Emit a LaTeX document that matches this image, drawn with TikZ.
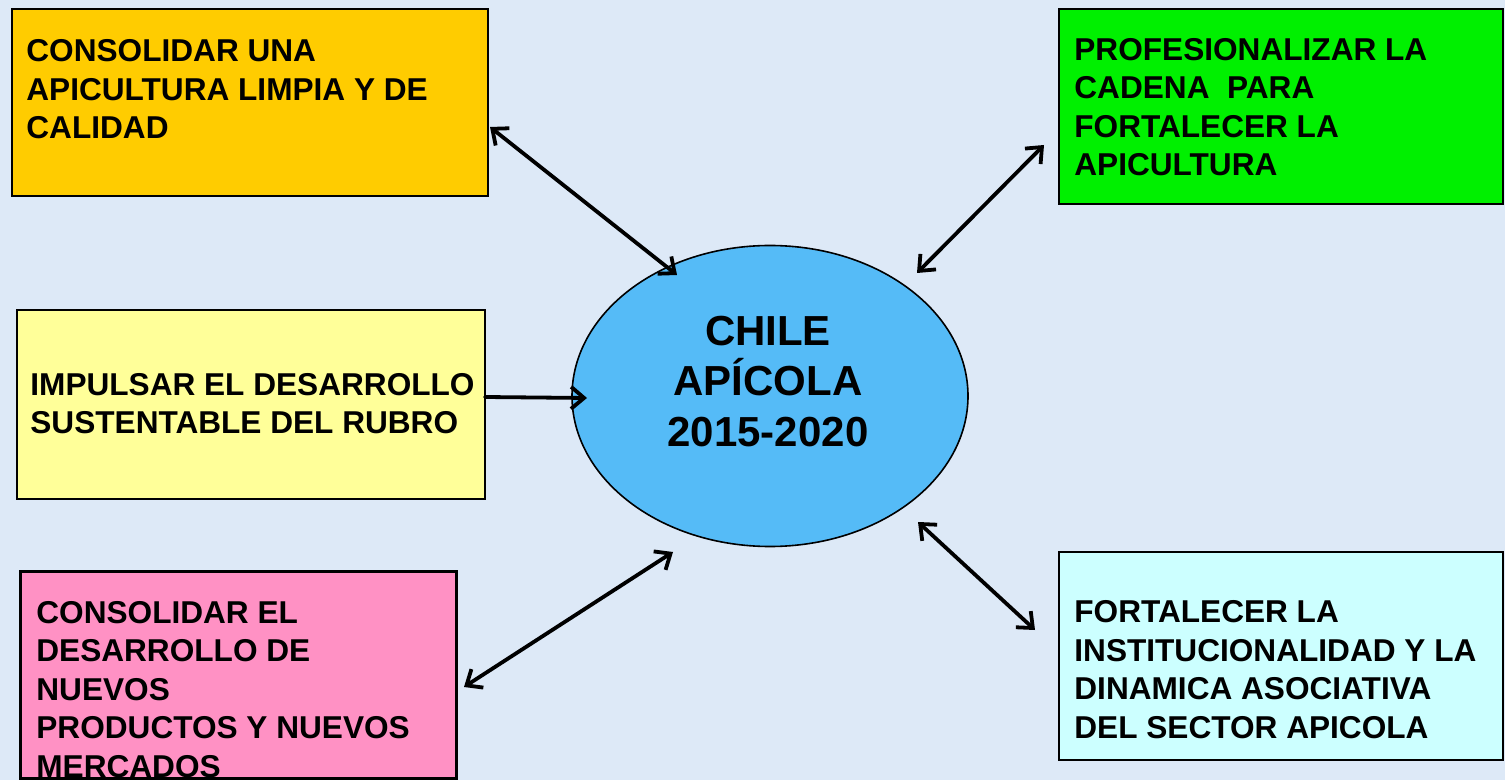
\documentclass[tikz,border=0pt]{standalone}
\usepackage{fontspec}
\setmainfont{Liberation Sans}
\usetikzlibrary{shapes.geometric,arrows.meta}
\definecolor{bgblue}{HTML}{DDE9F7}
\definecolor{boxorange}{HTML}{FFCC00}
\definecolor{boxgreen}{HTML}{00F000}
\definecolor{boxyellow}{HTML}{FFFF99}
\definecolor{boxpink}{HTML}{FF91C4}
\definecolor{boxcyan}{HTML}{CCFFFF}
\definecolor{ellblue}{HTML}{55BBF7}
\tikzset{
  goalbox/.style={draw=black, line width=0.8pt, rectangle, inner sep=0pt},
  goaltext/.style={anchor=base west, inner sep=0pt, align=left,
    font=\fontsize{15.8}{19.25}\selectfont\bfseries},
  centertext/.style={anchor=base, inner sep=0pt, align=center,
    font=\fontsize{21}{25.5}\selectfont\bfseries},
  link/.style={line width=1.9pt, line cap=round, line join=round},
  tip/.tip={Straight Barb[length=6.5pt,width=11pt,line width=1.9pt]}
}
\begin{document}
\begin{tikzpicture}[x=0.5pt,y=-0.5pt]
\useasboundingbox (0,0) rectangle (1505,780);
\fill[bgblue] (0,0) rectangle (1505,780);
% boxes
\node[goalbox, fill=boxorange, minimum width=238pt, minimum height=93.5pt] (b1) at (250,102.5) {};
\node[goalbox, fill=boxgreen, minimum width=222pt, minimum height=97.5pt] (b2) at (1281,106.5) {};
\node[goalbox, fill=boxyellow, minimum width=234pt, minimum height=94.5pt] (b3) at (251,404.5) {};
\node[goalbox, fill=boxpink, minimum width=217.5pt, minimum height=103pt] (b4) at (238.5,675) {};
\node[goalbox, fill=boxcyan, minimum width=222pt, minimum height=104pt] (b5) at (1281,656) {};
\node[draw=black, line width=0.8pt, ellipse, fill=ellblue, minimum width=198pt, minimum height=150.5pt, inner sep=0pt] (c) at (770,396) {};
% texts (anchored at the baseline of the last line)
\node[goaltext] (t1) at (26,139) {CONSOLIDAR UNA\\APICULTURA LIMPIA Y DE\\CALIDAD};
\node[goaltext] (t2) at (1074,176) {PROFESIONALIZAR LA\\CADENA~ PARA\\FORTALECER LA\\APICULTURA};
\node[goaltext] (t3) at (30,434) {IMPULSAR EL DESARROLLO\\SUSTENTABLE DEL RUBRO};
\begin{scope}
\clip (b4.south west) rectangle (b4.north east);
\node[goaltext] (t4) at (36,777) {CONSOLIDAR EL\\DESARROLLO DE\\NUEVOS\\PRODUCTOS Y NUEVOS\\MERCADOS};
\end{scope}
\draw[line width=0.8pt] (b4.south west) rectangle (b4.north east);
\node[goaltext] (t5) at (1074,738) {FORTALECER LA\\INSTITUCIONALIDAD Y LA\\DINAMICA ASOCIATIVA\\DEL SECTOR APICOLA};
\node[centertext] (ct) at (768,447) {CHILE\\APÍCOLA\\2015-2020};
% connector end points
\coordinate (p1a) at (490,127);
\coordinate (p1b) at (677,275);
\coordinate (p2a) at (1044,145);
\coordinate (p2b) at (917,273);
\coordinate (p3a) at (485,397);
\coordinate (p3b) at (587,398);
\coordinate (p4a) at (464,687);
\coordinate (p4b) at (673,552);
\coordinate (p5a) at (1035,630);
\coordinate (p5b) at (918,522);
% connectors
\draw[link, {tip}-{tip}] (p1a) -- (p1b);
\draw[link, {tip}-{tip}] (p2a) -- (p2b);
\draw[link, -{tip}] (p3a) -- (p3b);
\draw[link, {tip}-{tip}] (p4a) -- (p4b);
\draw[link, {tip}-{tip}] (p5a) -- (p5b);
\end{tikzpicture}
\end{document}
